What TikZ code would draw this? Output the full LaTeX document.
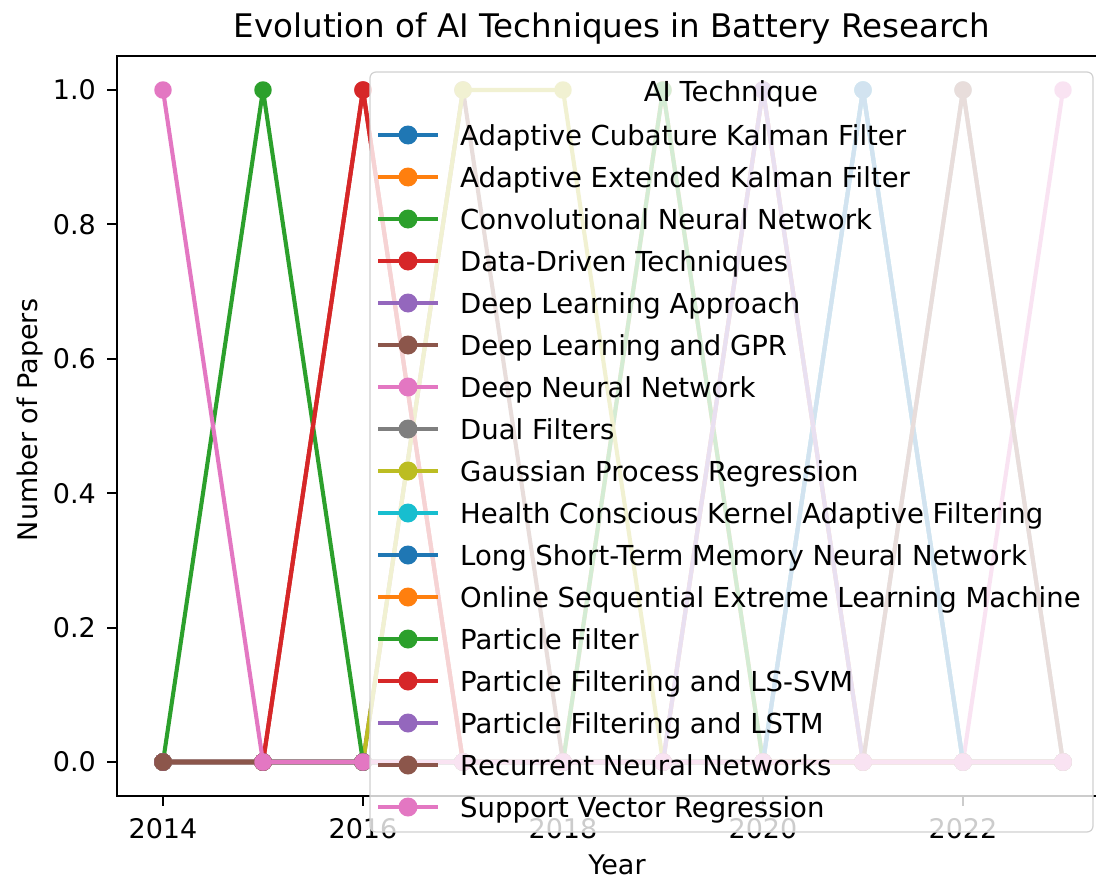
\documentclass[tikz,border=0pt]{standalone}
\usepackage{fontspec}
\setmainfont{DejaVu Sans}
\definecolor{tabblue}{HTML}{1F77B4}
\definecolor{taborange}{HTML}{FF7F0E}
\definecolor{tabgreen}{HTML}{2CA02C}
\definecolor{tabred}{HTML}{D62728}
\definecolor{tabpurple}{HTML}{9467BD}
\definecolor{tabbrown}{HTML}{8C564B}
\definecolor{tabpink}{HTML}{E377C2}
\definecolor{tabgray}{HTML}{7F7F7F}
\definecolor{tabolive}{HTML}{BCBD22}
\definecolor{tabcyan}{HTML}{17BECF}

\tikzset{
  series/.style={line width=4.1pt, line join=round, mark=*, mark size=8pt, mark options={line width=1.5pt}},
  ticktext/.style={inner sep=0pt, font=\fontsize{27}{32}\selectfont},
  legtext/.style={inner sep=0pt, font=\fontsize{27.5}{33}\selectfont},
  spine/.style={line width=2.2pt, line cap=rect},
}

\begin{document}
\begin{tikzpicture}[x=1pt, y=-1pt]
\useasboundingbox (0,0) rectangle (1096,875);

\begin{scope}[shift={(163,762)}, x=100pt, y=672pt]
  \draw[tabblue, series] plot coordinates{(0,0)(1,0)(2,0)(3,0)(4,0)(5,0)(6,0)(7,1)(8,0)(9,0)};
  \draw[taborange, series] plot coordinates{(0,0)(1,0)(2,0)(3,0)(4,0)(5,1)(6,0)(7,0)(8,0)(9,0)};
  \draw[tabgreen, series] plot coordinates{(0,0)(1,0)(2,0)(3,0)(4,0)(5,1)(6,0)(7,0)(8,0)(9,0)};
  \draw[tabred, series] plot coordinates{(0,0)(1,0)(2,1)(3,0)(4,0)(5,0)(6,0)(7,0)(8,0)(9,0)};
  \draw[tabpurple, series] plot coordinates{(0,0)(1,0)(2,0)(3,0)(4,0)(5,0)(6,1)(7,0)(8,0)(9,0)};
  \draw[tabbrown, series] plot coordinates{(0,0)(1,0)(2,0)(3,1)(4,0)(5,0)(6,0)(7,0)(8,0)(9,0)};
  \draw[tabpink, series] plot coordinates{(0,0)(1,0)(2,0)(3,0)(4,0)(5,0)(6,0)(7,0)(8,0)(9,1)};
  \draw[tabgray, series] plot coordinates{(0,0)(1,0)(2,0)(3,0)(4,0)(5,0)(6,0)(7,0)(8,1)(9,0)};
  \draw[tabolive, series] plot coordinates{(0,0)(1,0)(2,0)(3,1)(4,1)(5,0)(6,0)(7,0)(8,0)(9,0)};
  \draw[tabcyan, series] plot coordinates{(0,0)(1,0)(2,0)(3,0)(4,0)(5,0)(6,0)(7,1)(8,0)(9,0)};
  \draw[tabblue, series] plot coordinates{(0,0)(1,0)(2,0)(3,0)(4,0)(5,0)(6,0)(7,1)(8,0)(9,0)};
  \draw[taborange, series] plot coordinates{(0,0)(1,0)(2,0)(3,0)(4,0)(5,0)(6,1)(7,0)(8,0)(9,0)};
  \draw[tabgreen, series] plot coordinates{(0,0)(1,1)(2,0)(3,0)(4,0)(5,0)(6,0)(7,0)(8,0)(9,0)};
  \draw[tabred, series] plot coordinates{(0,0)(1,0)(2,1)(3,0)(4,0)(5,0)(6,0)(7,0)(8,0)(9,0)};
  \draw[tabpurple, series] plot coordinates{(0,0)(1,0)(2,0)(3,0)(4,0)(5,0)(6,1)(7,0)(8,0)(9,0)};
  \draw[tabbrown, series] plot coordinates{(0,0)(1,0)(2,0)(3,0)(4,0)(5,0)(6,0)(7,0)(8,1)(9,0)};
  \draw[tabpink, series] plot coordinates{(0,1)(1,0)(2,0)(3,0)(4,0)(5,0)(6,0)(7,0)(8,0)(9,0)};
\end{scope}

% axes
\draw[spine] (117,56) rectangle (1108,796);
\foreach \v in {0.0,0.2,0.4,0.6,0.8,1.0}{
  \pgfmathsetmacro\ty{762-672*\v}
  \draw[spine, line cap=butt] (107,\ty) -- (117,\ty);
  \node[ticktext, anchor=east] (ytick\v) at (96,\ty) {\v};
}
\foreach \yr [count=\k from 0] in {2014,2016,...,2022}{
  \pgfmathsetmacro\tx{163+200*\k}
  \draw[spine, line cap=butt] (\tx,796) -- (\tx,806);
  \node[ticktext, anchor=north] (xtick\yr) at (\tx,818) {\yr};
}

\node[inner sep=0pt, font=\fontsize{32.5}{38}\selectfont, anchor=base] (title) at (612,38) {Evolution of AI Techniques in Battery Research};
\node[ticktext, rotate=90] (ylabel) at (30,420) {Number of Papers};
\node[ticktext, anchor=north] (xlabel) at (617,855) {Year};

% legend
\draw[draw=black!18, line width=1.2pt, fill=white, fill opacity=0.8, rounded corners=6pt] (370,72) rectangle (1093,832);
\node[legtext] (legtitle) at (731,94) {AI Technique};
\foreach \lbl/\col [count=\i from 0] in {Adaptive Cubature Kalman Filter/tabblue, Adaptive Extended Kalman Filter/taborange, Convolutional Neural Network/tabgreen, Data-Driven Techniques/tabred, Deep Learning Approach/tabpurple, Deep Learning and GPR/tabbrown, Deep Neural Network/tabpink, Dual Filters/tabgray, Gaussian Process Regression/tabolive, Health Conscious Kernel Adaptive Filtering/tabcyan, Long Short-Term Memory Neural Network/tabblue, Online Sequential Extreme Learning Machine/taborange, Particle Filter/tabgreen, Particle Filtering and LS-SVM/tabred, Particle Filtering and LSTM/tabpurple, Recurrent Neural Networks/tabbrown, Support Vector Regression/tabpink}{
  \pgfmathsetmacro\ly{135+42*\i}
  \draw[\col, line width=4.1pt] (378,\ly) -- (438,\ly);
  \fill[\col] (408,\ly) circle (9.5pt);
  \node[legtext, anchor=base west] (leg\i) at (460,{\ly+10}) {\lbl};
}

\end{tikzpicture}
\end{document}
